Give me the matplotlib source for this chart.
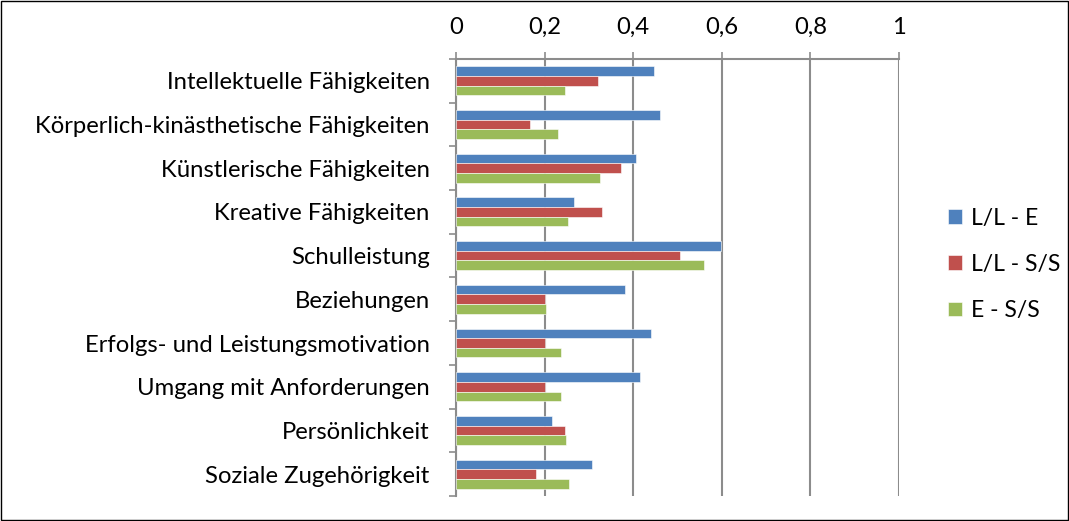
import numpy as np
import matplotlib.pyplot as plt
from matplotlib.patches import Rectangle
from matplotlib.ticker import FixedLocator, FuncFormatter

categories = ['Intellektuelle Fähigkeiten', 'Körperlich-kinästhetische Fähigkeiten',
              'Künstlerische Fähigkeiten', 'Kreative Fähigkeiten', 'Schulleistung',
              'Beziehungen', 'Erfolgs- und Leistungsmotivation', 'Umgang mit Anforderungen',
              'Persönlichkeit', 'Soziale Zugehörigkeit']
ll_e = [0.447, 0.461, 0.407, 0.267, 0.597, 0.382, 0.441, 0.416, 0.217, 0.306]
ll_ss = [0.321, 0.168, 0.373, 0.330, 0.505, 0.200, 0.201, 0.201, 0.246, 0.180]
e_ss = [0.245, 0.231, 0.326, 0.252, 0.560, 0.203, 0.238, 0.238, 0.248, 0.254]
series = ['L/L - E', 'L/L - S/S', 'E - S/S']
colors = ['#4F81BD', '#C0504D', '#9BBB59']
xticks = [0, 0.2, 0.4, 0.6, 0.8, 1]

plt.rcParams['font.family'] = ['Lato', 'DejaVu Sans']
fs = 17.2

fig = plt.figure(figsize=(10.69, 5.21), dpi=100)
ax = fig.add_axes([0.4266, 0.048, 0.4144, 0.839])

y = np.arange(len(categories))
h = 0.22
for i, (vals, c, lab) in enumerate(zip([ll_e, ll_ss, e_ss], colors, series)):
    ax.barh(y + (i - 1) * h, vals, height=h, color=c, label=lab,
            edgecolor='white', linewidth=0.4, zorder=3)

ax.set_xlim(0, 1)
ax.set_ylim(len(categories) - 0.5, -0.5)
ax.xaxis.tick_top()
ax.set_xticks(xticks)
ax.xaxis.set_major_formatter(FuncFormatter(lambda v, p: ('%g' % v).replace('.', ',')))
ax.grid(axis='x', color='#8c8c8c', linewidth=1.5, zorder=0)
ax.set_yticks(y)
ax.set_yticklabels(categories, fontsize=fs)
ax.yaxis.set_minor_locator(FixedLocator(np.arange(len(categories) + 1) - 0.5))
ax.tick_params(axis='y', which='major', length=0, pad=19)
ax.tick_params(axis='y', which='minor', length=5, color='#8c8c8c', width=1.2)
ax.tick_params(axis='x', length=5, color='#8c8c8c', width=1.2, labelsize=fs, pad=10)
for s in ['right', 'bottom']:
    ax.spines[s].set_visible(False)
for s in ['top', 'left']:
    ax.spines[s].set_color('#8c8c8c')
    ax.spines[s].set_linewidth(1.5)

ax.legend(loc='center left', bbox_to_anchor=(1.065, 0.53), frameon=False, fontsize=16.5,
          handlelength=0.6, handleheight=0.6, labelspacing=1.1, handletextpad=0.4)

fig.patches.append(Rectangle((0.001, 0.002), 0.998, 0.996, transform=fig.transFigure,
                             fill=False, edgecolor='black', linewidth=1))
fig.savefig('out.png', dpi=100)
